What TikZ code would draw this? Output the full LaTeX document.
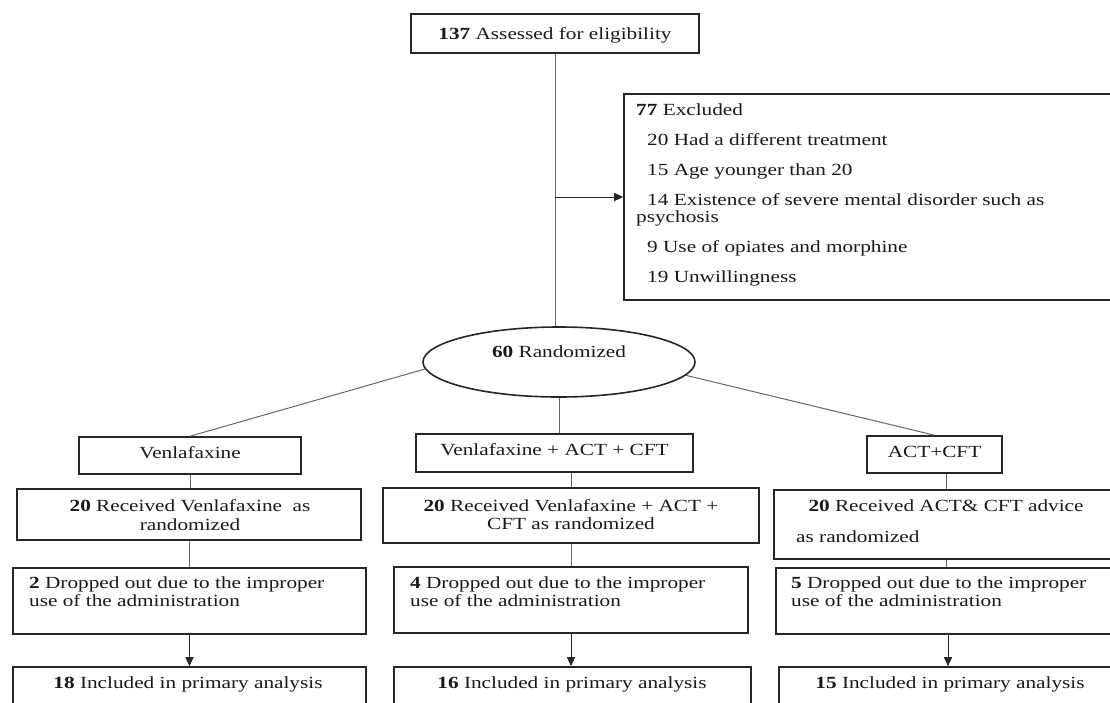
\documentclass[tikz,border=0pt]{standalone}
\usepackage{fontspec}
\setmainfont[FakeStretch=1.25]{Liberation Serif}
\usetikzlibrary{shapes.geometric,arrows.meta}
\begin{document}
\begin{tikzpicture}[x=1pt,y=-1pt,
  box/.style={draw=black!85, line width=1.6pt, inner sep=0pt},
  lbl/.style={inner sep=0pt, text=black!90, font=\fontsize{17pt}{18pt}\selectfont},
  conn/.style={draw=black!60, line width=1pt},
  arr/.style={draw=black!85, line width=1pt, -{Triangle[length=9pt,width=8pt]}}]
\useasboundingbox (0,0) rectangle (1110,702);
\clip (0,0) rectangle (1110,702);
% boxes
\node[box, minimum width=288pt, minimum height=39pt] (top) at (555,33.5) {};
\node[box, minimum width=496pt, minimum height=206pt] (excl) at (872,197) {};
\node[box, ellipse, minimum width=272pt, minimum height=70pt] (ell) at (559,362) {};
\node[box, minimum width=222pt, minimum height=37pt] (venl) at (190,455.5) {};
\node[box, minimum width=277pt, minimum height=38pt] (mid) at (554.5,453) {};
\node[box, minimum width=135pt, minimum height=37pt] (act) at (934.5,454.5) {};
\node[box, minimum width=344pt, minimum height=51pt] (rec1) at (189,514.5) {};
\node[box, minimum width=376pt, minimum height=55pt] (rec2) at (571,515.5) {};
\node[box, minimum width=344pt, minimum height=69pt] (rec3) at (946,524.5) {};
\node[box, minimum width=353pt, minimum height=66pt] (drop1) at (189.5,601) {};
\node[box, minimum width=354pt, minimum height=66pt] (drop2) at (571,600) {};
\node[box, minimum width=344pt, minimum height=66pt] (drop3) at (948,601) {};
\node[box, minimum width=353pt, minimum height=60pt] (incl1) at (189.5,697) {};
\node[box, minimum width=357pt, minimum height=60pt] (incl2) at (572.5,697) {};
\node[box, minimum width=341pt, minimum height=60pt] (incl3) at (949.5,697) {};
% connectors
\draw[conn] (top.south) -- (top.south |- ell.north);
\coordinate (br) at (555,197);
\draw[arr] (br) -- (br -| excl.west);
\draw[conn] (ell.183) -- (venl.north);
\draw[conn] (ell.south) -- (ell.south |- mid.north);
\draw[conn] (ell.354) -- (act.north);
\draw[conn] (venl.south) -- (venl.south |- rec1.north);
\draw[conn] (rec2.north |- mid.south) -- (rec2.north);
\draw[conn] (rec3.north |- act.south) -- (rec3.north);
\draw[conn] (rec1.south) -- (rec1.south |- drop1.north);
\draw[conn] (rec2.south) -- (drop2.north);
\draw[conn] (rec3.south) -- (rec3.south |- drop3.north);
\draw[arr] (drop1.south) -- (incl1.north);
\draw[arr] (drop2.south) -- (drop2.south |- incl2.north);
\draw[arr] (drop3.south) -- (drop3.south |- incl3.north);
% texts
\node[lbl, anchor=base] (ttop) at (555,39) {\textbf{137} Assessed for eligibility};
\node[lbl, anchor=base west] (ex1) at (636,115.5) {\textbf{77} Excluded};
\node[lbl, anchor=base west] (ex2) at (647,145.5) {20 Had a different treatment};
\node[lbl, anchor=base west] (ex3) at (647,175.5) {15 Age younger than 20};
\node[lbl, anchor=base west] (ex4) at (647,205.5) {14 Existence of severe mental disorder such as};
\node[lbl, anchor=base west] (ex5) at (636,222.5) {psychosis};
\node[lbl, anchor=base west] (ex6) at (647,252.5) {9 Use of opiates and morphine};
\node[lbl, anchor=base west] (ex7) at (647,282.5) {19 Unwillingness};
\node[lbl, anchor=base] (tell) at (559,357.5) {\textbf{60} Randomized};
\node[lbl, anchor=base] (tvenl) at (190,458.5) {Venlafaxine};
\node[lbl, anchor=base] (tmid) at (554.5,455.5) {Venlafaxine + ACT + CFT};
\node[lbl, anchor=base] (tact) at (934.5,457.5) {ACT+CFT};
\node[lbl, anchor=base] (tr1a) at (190,511.5) {\textbf{20} Received Venlafaxine\ \ as};
\node[lbl, anchor=base] (tr1b) at (190,530.5) {randomized};
\node[lbl, anchor=base] (tr2a) at (571,511.5) {\textbf{20} Received Venlafaxine + ACT +};
\node[lbl, anchor=base] (tr2b) at (571,529.5) {CFT as randomized};
\node[lbl, anchor=base] (tr3a) at (946,511.5) {\textbf{20} Received ACT\& CFT advice};
\node[lbl, anchor=base west] (tr3b) at (796,542.5) {as randomized};
\node[lbl, anchor=base west] (td1a) at (29,588.5) {\textbf{2} Dropped out due to the improper};
\node[lbl, anchor=base west] (td1b) at (29,606.5) {use of the administration};
\node[lbl, anchor=base west] (td2a) at (410,588.5) {\textbf{4} Dropped out due to the improper};
\node[lbl, anchor=base west] (td2b) at (410,606.5) {use of the administration};
\node[lbl, anchor=base west] (td3a) at (791,588.5) {\textbf{5} Dropped out due to the improper};
\node[lbl, anchor=base west] (td3b) at (791,606.5) {use of the administration};
\node[lbl, anchor=base] (ti1) at (188,688.5) {\textbf{18} Included in primary analysis};
\node[lbl, anchor=base] (ti2) at (572,688.5) {\textbf{16} Included in primary analysis};
\node[lbl, anchor=base] (ti3) at (950,688.5) {\textbf{15} Included in primary analysis};
\end{tikzpicture}
\end{document}
